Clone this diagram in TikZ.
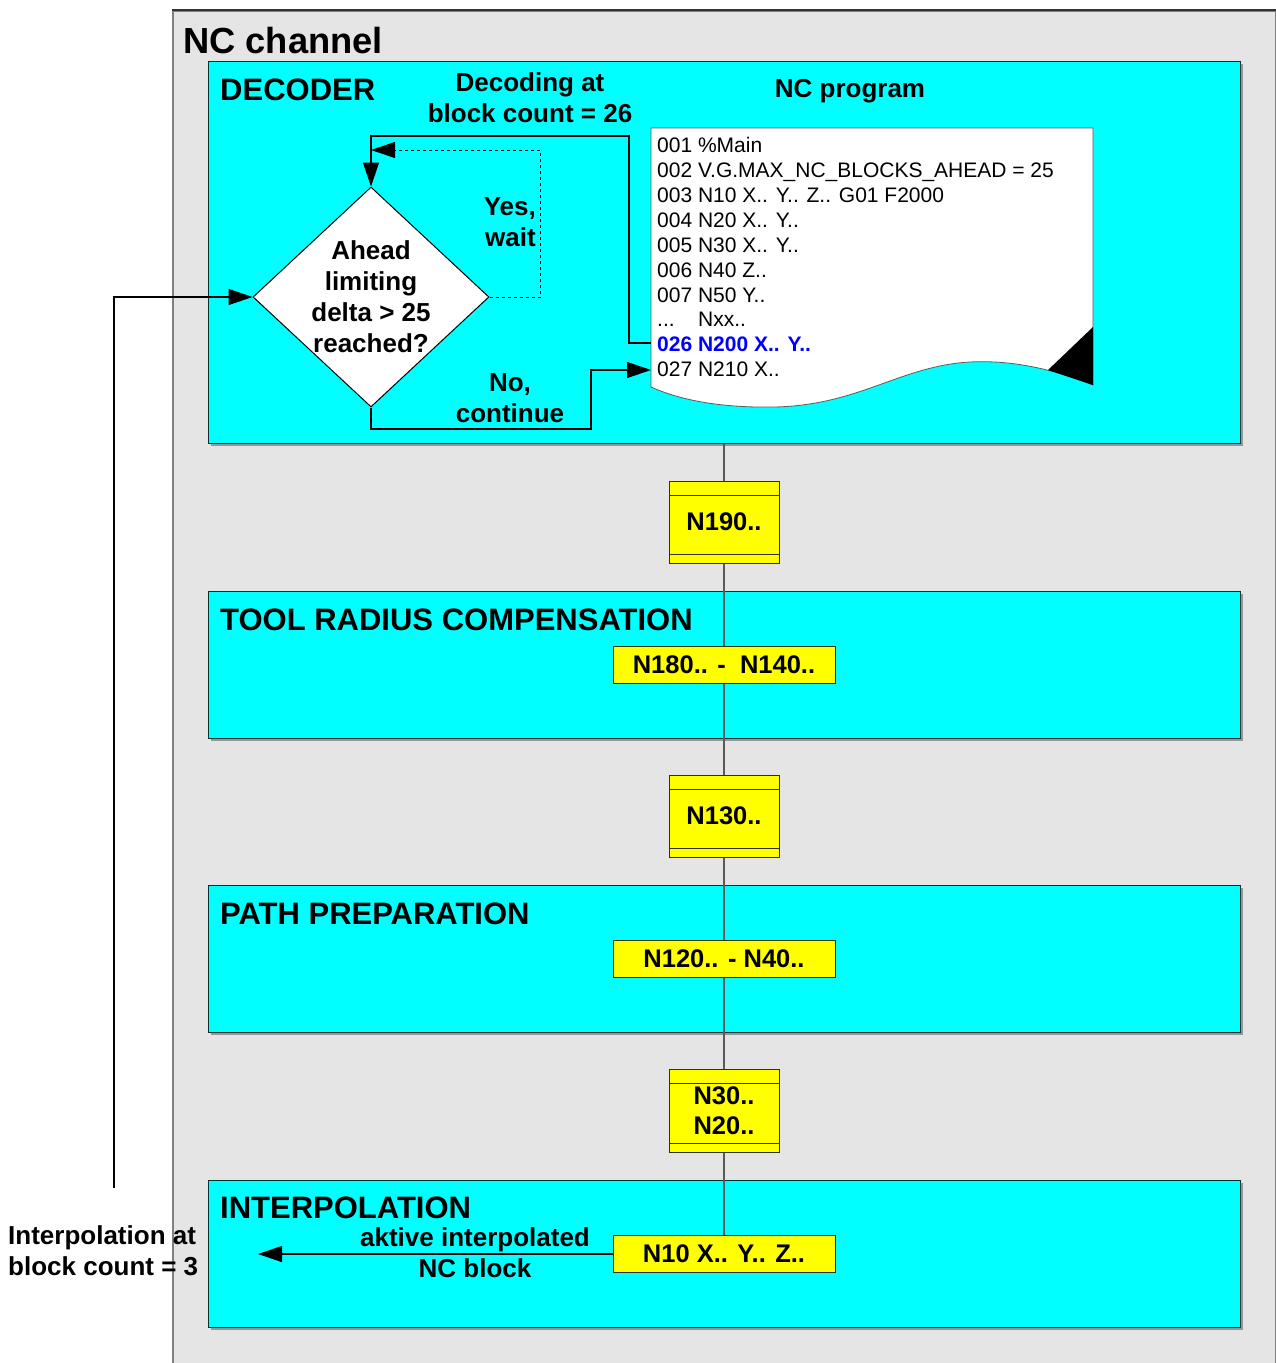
\documentclass[tikz,border=0pt]{standalone}
\usepackage{fontspec}
\setmainfont{Liberation Sans}
\usetikzlibrary{arrows.meta,shapes.geometric,shadows}

\begin{document}
\begin{tikzpicture}[x=1pt,y=-1pt,
    section/.style={draw=r0g51b51, line width=1.2pt, fill=r0g255b255, anchor=north west,
      minimum width=1032pt, inner sep=0pt,
      drop shadow={shadow xshift=2pt, shadow yshift=-2pt, fill=r150g150b150, opacity=1}},
    title/.style={font=\fontsize{31}{36}\selectfont\bfseries, anchor=base west, inner sep=0pt},
    lbl/.style={font=\fontsize{26}{31}\selectfont\bfseries, align=center, inner sep=0pt},
    progline/.style={font=\fontsize{21}{25}\selectfont, anchor=base west, inner sep=0pt},
    buffer/.style={draw=r51g51b0, line width=1pt, fill=r255g255b0, minimum width=110pt, minimum height=82pt,
      font=\fontsize{25.5}{30}\selectfont\bfseries, align=center, inner sep=0pt,
      path picture={
        \draw[line width=1pt] ([yshift=-14pt]path picture bounding box.north west) -- ([yshift=-14pt]path picture bounding box.north east);
        \draw[line width=1pt] ([yshift=9pt]path picture bounding box.south west) -- ([yshift=9pt]path picture bounding box.south east);}},
    blockbar/.style={draw=r51g51b0, line width=1pt, fill=r255g255b0, minimum width=222pt, minimum height=37pt,
      font=\fontsize{25.5}{30}\selectfont\bfseries, inner sep=0pt},
    conn/.style={line width=1.3pt, draw=black},
    flow/.style={conn, -{Triangle[length=24pt,width=16pt]}},
    chain/.style={line width=1.5pt, draw=r90g90b90}]
% \clip (0,0) rectangle (1276,1363);
\useasboundingbox (0,0) rectangle (1276,1363);%

% Changing colors
\definecolor{r229g229b229}{rgb}{0.898000,0.898000,0.898000}%
\definecolor{r0g255b255}{rgb}{0.000000,1.000000,1.000000}%
\definecolor{r255g255b0}{rgb}{1.000000,1.000000,0.000000}%
\definecolor{r0g51b51}{rgb}{0.000000,0.200000,0.200000}%
\definecolor{r51g51b0}{rgb}{0.200000,0.200000,0.000000}%
\definecolor{r150g150b150}{rgb}{0.588000,0.588000,0.588000}%
\definecolor{r90g90b90}{rgb}{0.353000,0.353000,0.353000}%
\definecolor{r128g128b128}{rgb}{0.500000,0.500000,0.500000}%
\definecolor{r0g0b255}{rgb}{0.000000,0.000000,1.000000}%

% Drawing NC channel
\node[draw=r128g128b128, line width=1.5pt, fill=r229g229b229, anchor=north west,
  minimum width=1103pt, minimum height=1380pt] (channel) at (172,10) {};%
\draw[line width=1.5pt, black!80] (channel.north west) -- (channel.north east);%
\node[font=\fontsize{36.3}{40}\selectfont\bfseries, anchor=base west, inner sep=0pt] (chantitle) at (183,53) {NC channel};%

% Drawing sections
\node[section, minimum height=382pt] (decoder) at (208,61) {};%
\node[section, minimum height=147pt] (trc) at (208,591) {};%
\node[section, minimum height=147pt] (pp) at (208,885) {};%
\node[section, minimum height=147pt] (ipo) at (208,1180) {};%
\node[title] (dectitle) at (220,100) {DECODER};%
\node[title] (trctitle) at (220,630) {TOOL RADIUS COMPENSATION};%
\node[title] (pptitle) at (220,924) {PATH PREPARATION};%
\node[title] (ipotitle) at (220,1218) {INTERPOLATION};%

% Drawing NC program sheet
\node[lbl] (progtitle) at (850,91) {NC program};%
\filldraw[fill=white, draw=r90g90b90, line width=0.8pt] (651,128) -- (1093,128) -- (1093,385)
  .. controls (1050,368) and (1010,360) .. (970,362)
  .. controls (900,366) and (860,405) .. (775,407)
  .. controls (720,408) and (680,400) .. (651,387) -- cycle;%
\fill[black] (1093,327) -- (1093,385) -- (1048,370) -- cycle;%
\node[progline] (l01) at (657,152) {001 \%Main};%
\node[progline] (l02) at (657,177) {002 V.G.MAX\_NC\_BLOCKS\_AHEAD = 25};%
\node[progline] (l03) at (657,202) {003 N10 X.. Y.. Z.. G01 F2000};%
\node[progline] (l04) at (657,227) {004 N20 X.. Y..};%
\node[progline] (l05) at (657,252) {005 N30 X.. Y..};%
\node[progline] (l06) at (657,277) {006 N40 Z..};%
\node[progline] (l07) at (657,302) {007 N50 Y..};%
\node[progline] (lxx) at (657,326) {\makebox[41pt][l]{...}Nxx..};%
\node[progline, text=r0g0b255, font=\fontsize{21}{25}\selectfont\bfseries] (l26) at (657,351) {026 N200 X.. Y..};%
\node[progline] (l27) at (657,376) {027 N210 X..};%

% Drawing decision
\node[draw=black, fill=white, shape=diamond, line width=1pt, inner sep=0pt,
  minimum width=236pt, minimum height=220pt] (ahead) at (371,297) {};%
\node[lbl] (aheadtext) at (371,297) {Ahead\\limiting\\delta > 25\\reached?};%
\node[lbl] (decodeat) at (530,97.5) {Decoding at\\block count = 26};%
\node[lbl, align=right, anchor=east] (waittext) at (536,222.5) {Yes,\\wait};%
\node[lbl] (conttext) at (510,398.5) {No,\\continue};%

% Drawing decoder connectors
\coordinate (decin) at (651,343);%
\coordinate (topbend) at (629,136);%
\coordinate (waitbend) at (540,150);%
\coordinate (contbend) at (591,429);%
\coordinate (decnext) at (651,370);%
\coordinate (fbstart) at (114,1188);%
\draw[flow] (decin) -| (topbend) -| (ahead.north);%
\draw[flow, dashed, line width=1pt] (ahead.east) -| (waitbend) -- (ahead.north |- waitbend);%
\draw[flow] (ahead.south) |- (contbend) |- (decnext);%
\draw[flow] (fbstart) |- (ahead.west);%

% Drawing block chain
\node[buffer] (n190) at (724,522) {N190..};%
\node[blockbar] (n180) at (724,664.5) {N180.. -\ \ N140..};%
\node[buffer] (n130) at (724,816) {N130..};%
\node[blockbar] (n120) at (724,958.5) {N120.. - N40..};%
\node[buffer, minimum height=83pt] (n30) at (724,1110.5) {N30..\\N20..};%
\node[blockbar] (n10) at (724,1254) {N10 X.. Y.. Z..};%
\draw[chain] (decoder.south -| n190) -- (n190.north);%
\draw[chain] (n190.south) -- (n180.north);%
\draw[chain] (n180.south) -- (n130.north);%
\draw[chain] (n130.south) -- (n120.north);%
\draw[chain] (n120.south) -- (n30.north);%
\draw[chain] (n30.south) -- (n10.north);%

% Drawing interpolation output
\coordinate (ipoend) at (258,1254);%
\draw[flow] (n10.west) -- (ipoend);%
\node[lbl] (aktivetext) at (475,1252.5) {aktive interpolated\\NC block};%
\node[lbl, align=left, anchor=west] (ipoat) at (8,1251) {Interpolation at\\block count = 3};%
\end{tikzpicture}
\end{document}
